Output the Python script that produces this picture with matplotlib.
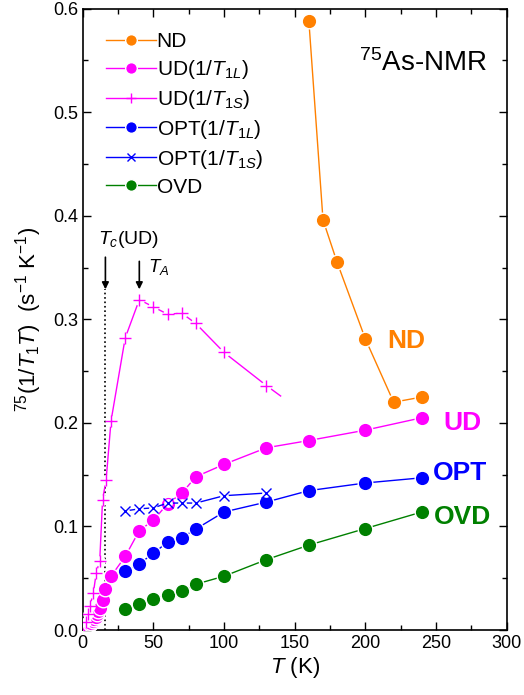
import numpy as np
import matplotlib
matplotlib.use("Agg")
import matplotlib.pyplot as plt
from matplotlib.ticker import MultipleLocator

plt.rcParams['font.family'] = ['Liberation Sans', 'DejaVu Sans']
plt.rcParams['mathtext.fontset'] = 'custom'
plt.rcParams['mathtext.rm'] = 'Liberation Sans'
plt.rcParams['mathtext.it'] = 'Liberation Sans:italic'
plt.rcParams['mathtext.bf'] = 'Liberation Sans:bold'

# 75As-NMR 1/T1T data (s^-1 K^-1) vs temperature (K)
T_nd = [160, 170, 180, 200, 220, 240]
r_nd = [0.588, 0.396, 0.355, 0.281, 0.220, 0.225]

T_ud_L = [2, 3, 4, 5, 6, 7, 8, 9, 10, 11, 12, 14, 16, 20, 30, 40, 50, 60, 70, 80,
          100, 130, 160, 200, 240]
r_ud_L = [0.002, 0.003, 0.004, 0.0055, 0.007, 0.009, 0.011, 0.013, 0.015, 0.018,
          0.021, 0.029, 0.040, 0.052, 0.071, 0.096, 0.106, 0.122, 0.132, 0.148,
          0.160, 0.176, 0.183, 0.193, 0.205]

T_ud_S = [2, 3.5, 5, 7.5, 9.5, 12, 14, 16.5, 20, 30, 40, 50, 60, 70, 80, 100, 130, 140]
r_ud_S = [0.008, 0.015, 0.023, 0.036, 0.055, 0.067, 0.126, 0.145, 0.202, 0.282,
          0.319, 0.312, 0.305, 0.306, 0.296, 0.268, 0.236, 0.226]

T_opt_L = [30, 40, 50, 60, 70, 80, 100, 130, 160, 200, 240]
r_opt_L = [0.057, 0.064, 0.074, 0.085, 0.089, 0.0975, 0.114, 0.1236, 0.1346, 0.142, 0.147]

T_opt_S = [30, 40, 50, 60, 70, 80, 100, 130]
r_opt_S = [0.115, 0.117, 0.118, 0.1226, 0.1226, 0.1226, 0.1297, 0.1323]

T_ovd = [30, 40, 50, 60, 70, 80, 100, 130, 160, 200, 240]
r_ovd = [0.020, 0.0249, 0.0297, 0.0339, 0.0378, 0.0442, 0.052, 0.068, 0.082, 0.098, 0.114]

Tc_ud = 16
T_A = 40

c_nd = '#ff8000'
c_ud = '#ff00ff'
c_opt = '#0000ff'
c_ovd = '#008000'

fig = plt.figure(figsize=(5.24, 6.95), dpi=100)
ax = fig.add_axes([0.158, 0.0935, 0.809, 0.894])

lw = 1.0


def circles(x, y, color, label, z):
    ax.plot(x, y, '-', color=color, lw=lw, marker='o', ms=10.5, mfc=color,
            mec='white', mew=1.0, label=label, zorder=z)


def crosses(x, y, color, marker, ms, label, z, nmark=None):
    n = len(x) if nmark is None else nmark
    ax.plot(x, y, '-', color=color, lw=lw, zorder=z)
    # white disc behind each symbol leaves a small gap in the line
    ax.plot(x[:n], y[:n], 'o', color='white', ms=ms * 0.9, mew=0, zorder=z + 0.1)
    ax.plot(x[:n], y[:n], ls='none', marker=marker, color=color, ms=ms, mew=1.0,
            zorder=z + 0.2)
    ax.plot([], [], '-', color=color, lw=lw, marker=marker, ms=ms, mew=1.0, label=label)


# Tc(UD) marker line
ax.plot([Tc_ud, Tc_ud], [0, 0.329], ':', color='black', lw=1.2, zorder=1)

circles(T_nd, r_nd, c_nd, 'ND', 3)
circles(T_ud_L, r_ud_L, c_ud, r'UD($\mathit{1/T}_{\mathit{1L}}$)', 4)
crosses(T_ud_S, r_ud_S, c_ud, '+', 8.5, r'UD($\mathit{1/T}_{\mathit{1S}}$)', 5,
        nmark=len(T_ud_S) - 1)
circles(T_opt_L, r_opt_L, c_opt, r'OPT($\mathit{1/T}_{\mathit{1L}}$)', 6)
crosses(T_opt_S, r_opt_S, c_opt, 'x', 7, r'OPT($\mathit{1/T}_{\mathit{1S}}$)', 7)
circles(T_ovd, r_ovd, c_ovd, 'OVD', 8)

# arrows for Tc and T_A
ax.annotate('', xy=(Tc_ud, 0.329), xytext=(Tc_ud, 0.360),
            arrowprops=dict(arrowstyle='-|>', color='black', lw=1.2,
                            mutation_scale=10, shrinkA=0, shrinkB=0))
ax.annotate('', xy=(T_A, 0.329), xytext=(T_A, 0.356),
            arrowprops=dict(arrowstyle='-|>', color='black', lw=1.2,
                            mutation_scale=10, shrinkA=0, shrinkB=0))
ax.text(11.0, 0.373, r'$T_c$(UD)', fontsize=14, ha='left', va='baseline')
ax.text(46, 0.346, r'$T_A$', fontsize=13.5, ha='left', va='baseline')

ax.text(215.5, 0.279, 'ND', color=c_nd, fontsize=19, fontweight='bold',
        ha='left', va='center')
ax.text(255, 0.200, 'UD', color=c_ud, fontsize=19, fontweight='bold',
        ha='left', va='center')
ax.text(248, 0.152, 'OPT', color=c_opt, fontsize=19, fontweight='bold',
        ha='left', va='center')
ax.text(248.5, 0.109, 'OVD', color=c_ovd, fontsize=19, fontweight='bold',
        ha='left', va='center')
ax.text(286, 0.540, r'$^{75}$As-NMR', fontsize=20, ha='right', va='baseline')

ax.set_xlim(0, 300)
ax.set_ylim(0, 0.6)
ax.xaxis.set_major_locator(MultipleLocator(50))
ax.xaxis.set_minor_locator(MultipleLocator(25))
ax.yaxis.set_major_locator(MultipleLocator(0.1))
ax.yaxis.set_minor_locator(MultipleLocator(0.05))
ax.yaxis.set_major_formatter(matplotlib.ticker.FormatStrFormatter('%.1f'))
ax.tick_params(which='both', direction='in', top=True, right=True, width=1.0,
               labelsize=13)
ax.tick_params(which='major', length=6)
ax.tick_params(which='minor', length=3.5)
for s in ax.spines.values():
    s.set_linewidth(1.2)

ax.set_xlabel(r'$T$ (K)', fontsize=16, labelpad=2)
ax.set_ylabel(r'$^{75}$(1/$T_1T$)  (s$^{-1}$ K$^{-1}$)', fontsize=16, labelpad=6)

ax.legend(loc='upper left', bbox_to_anchor=(0.029, 0.979), frameon=False,
          fontsize=15, handlelength=2.4, handletextpad=0.05, labelspacing=0.33,
          borderpad=0, markerscale=0.8)

fig.savefig('out.png', dpi=100)
